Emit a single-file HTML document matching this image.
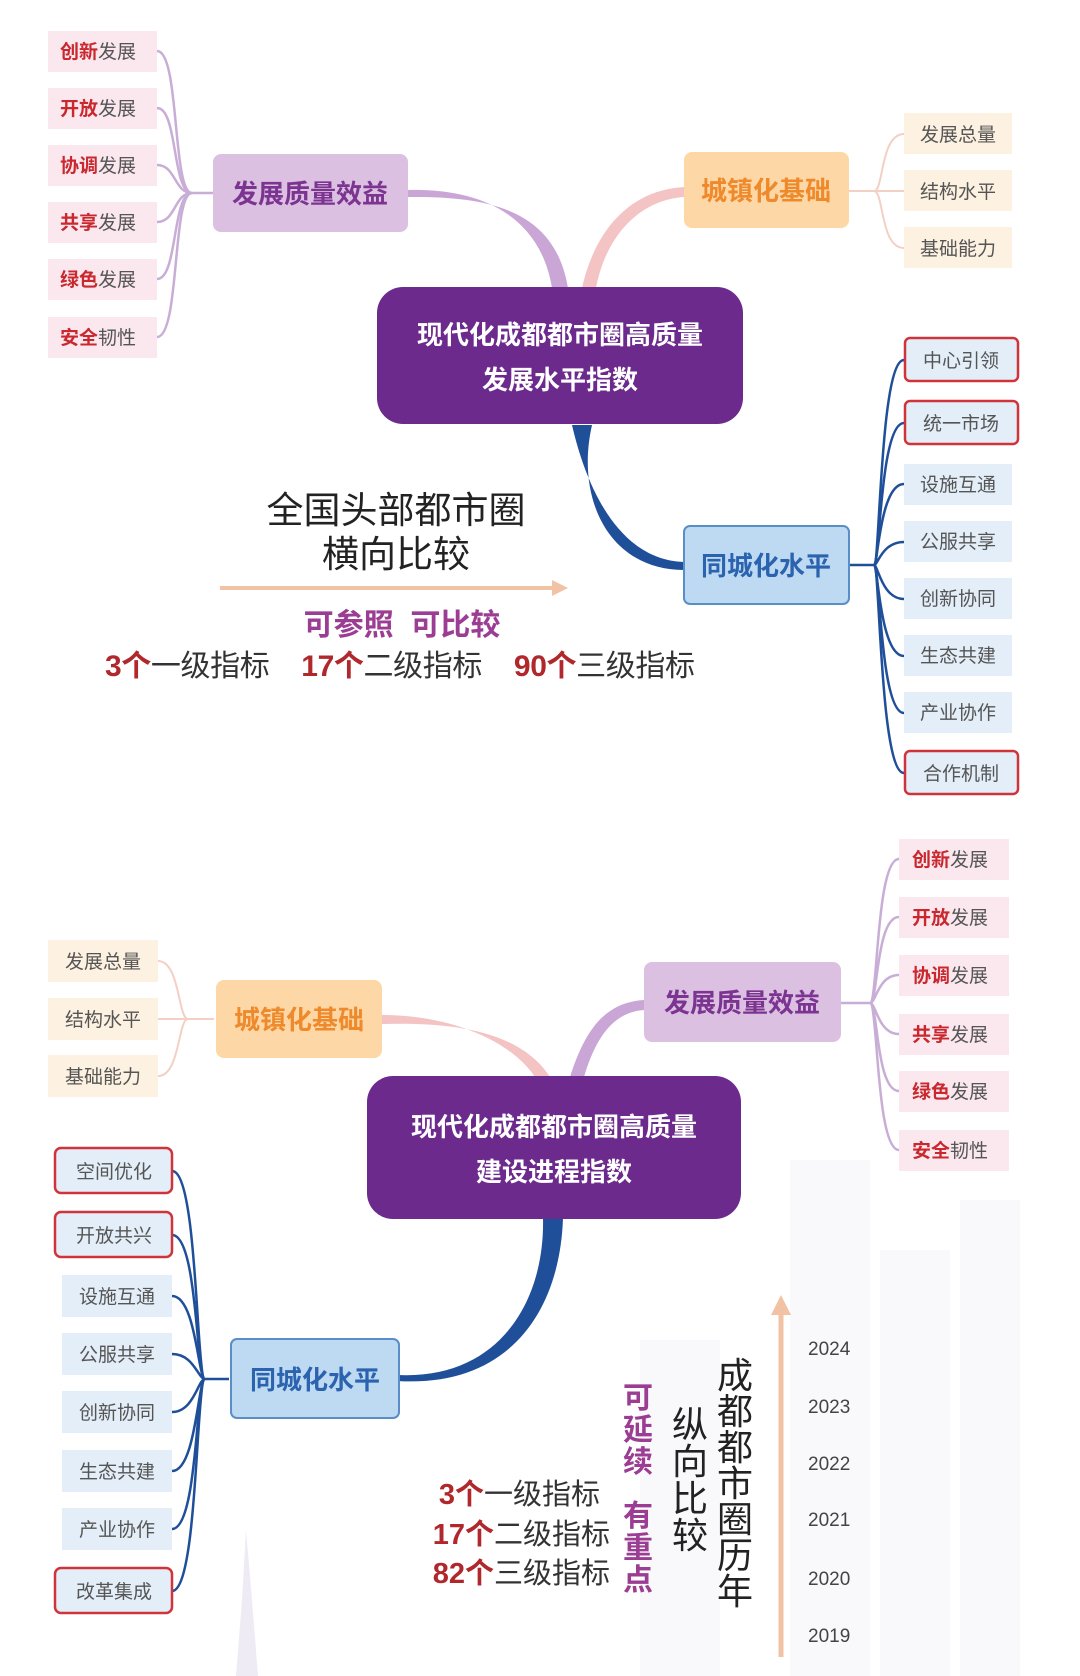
<!DOCTYPE html>
<html><head><meta charset="utf-8"><style>
html,body{margin:0;padding:0;background:#fff;}
svg{display:block;font-family:"Liberation Sans","Noto Sans CJK SC",sans-serif;}
</style></head><body>
<svg width="1080" height="1676" viewBox="0 0 1080 1676" xmlns="http://www.w3.org/2000/svg">
<defs>
<marker id="ah" viewBox="0 0 10 10" refX="5" refY="5" markerWidth="4" markerHeight="4" orient="auto"><path d="M0,0L10,5L0,10z" fill="#f2c2a4"/></marker>
</defs>
<g fill="#f9f9fb">
<rect x="790" y="1160" width="80" height="516"/><rect x="880" y="1250" width="70" height="426"/><rect x="960" y="1200" width="60" height="476"/><rect x="640" y="1340" width="80" height="336"/>
</g>
<path d="M246 1530 L242 1600 L236 1676 L258 1676 L252 1600 Z" fill="#eeebf4"/>

<!-- ===== TOP ===== -->
<g fill="none" stroke="#c8aed6" stroke-width="2.5">
<path d="M157 51 C180 51,172 193,192 193"/><path d="M157 108 C178 108,172 193,192 193"/><path d="M157 165 C176 165,174 193,192 193"/>
<path d="M157 222 C176 222,174 193,192 193"/><path d="M157 279 C178 279,172 193,192 193"/><path d="M157 337 C180 337,172 193,192 193"/>
<path d="M192 193 L213 193"/>
</g>
<path d="M408 190 C480 188,540 215,552 288 L568 288 C555 210,490 196,408 197 Z" fill="#c9a6d6"/>
<path d="M684 187 C630 190,595 230,582 288 L596 288 C606 235,640 200,684 197 Z" fill="#f4c3c3"/>
<g fill="none" stroke="#f3d0c4" stroke-width="2">
<path d="M849 191 L874 191"/><path d="M904 134 C880 134,884 191,874 191"/><path d="M904 248 C880 248,884 191,874 191"/><path d="M874 191 L904 191"/>
</g>
<path d="M572 425 C587 490,620 560,684 562 L684 570 C610 570,575 500,592 425 Z" fill="#1f4f99"/>
<g fill="none" stroke="#1f4f99" stroke-width="2.5">
<path d="M849 565 L874 565"/>
<path d="M904 360 C880 360,880 565,874 565"/><path d="M904 423 C880 423,880 565,874 565"/><path d="M904 484 C880 484,878 565,874 565"/><path d="M904 542 C882 542,878 565,874 565"/>
<path d="M904 599 C882 599,878 565,874 565"/><path d="M904 656 C880 656,878 565,874 565"/><path d="M904 713 C880 713,880 565,874 565"/><path d="M904 773 C880 773,880 565,874 565"/>
</g>

<g font-size="19">
<g fill="#fbe7ee"><rect x="48" y="31" width="109" height="41"/><rect x="48" y="88" width="109" height="41"/><rect x="48" y="145" width="109" height="41"/><rect x="48" y="202" width="109" height="41"/><rect x="48" y="259" width="109" height="41"/><rect x="48" y="317" width="109" height="41"/></g>
<text x="60" y="58"><tspan fill="#c8282e" font-weight="bold">创新</tspan><tspan fill="#555">发展</tspan></text>
<text x="60" y="115"><tspan fill="#c8282e" font-weight="bold">开放</tspan><tspan fill="#555">发展</tspan></text>
<text x="60" y="172"><tspan fill="#c8282e" font-weight="bold">协调</tspan><tspan fill="#555">发展</tspan></text>
<text x="60" y="229"><tspan fill="#c8282e" font-weight="bold">共享</tspan><tspan fill="#555">发展</tspan></text>
<text x="60" y="286"><tspan fill="#c8282e" font-weight="bold">绿色</tspan><tspan fill="#555">发展</tspan></text>
<text x="60" y="344"><tspan fill="#c8282e" font-weight="bold">安全</tspan><tspan fill="#555">韧性</tspan></text>
</g>
<rect x="213" y="154" width="195" height="78" rx="8" fill="#dcc0e2"/>
<text x="310" y="203" text-anchor="middle" font-size="26" font-weight="bold" fill="#7b3490">发展质量效益</text>
<rect x="684" y="152" width="165" height="76" rx="8" fill="#fdd8a6"/>
<text x="766" y="200" text-anchor="middle" font-size="26" font-weight="bold" fill="#ef8a2c">城镇化基础</text>
<g fill="#fdf1e1"><rect x="904" y="113" width="108" height="41"/><rect x="904" y="170" width="108" height="41"/><rect x="904" y="227" width="108" height="41"/></g>
<g font-size="19" fill="#555" text-anchor="middle"><text x="958" y="141">发展总量</text><text x="958" y="198">结构水平</text><text x="958" y="255">基础能力</text></g>

<rect x="377" y="287" width="366" height="137" rx="26" fill="#6b2a8c"/>
<text x="560" y="344" text-anchor="middle" font-size="26" font-weight="bold" fill="#fff">现代化成都都市圈高质量</text>
<text x="560" y="389" text-anchor="middle" font-size="26" font-weight="bold" fill="#fff">发展水平指数</text>

<rect x="684" y="526" width="165" height="78" rx="6" fill="#bed9f2" stroke="#5a8ec6" stroke-width="2"/>
<text x="766" y="575" text-anchor="middle" font-size="26" font-weight="bold" fill="#2b63ae">同城化水平</text>
<g fill="#e3eef8">
<rect x="905" y="338" width="113" height="43" rx="5" stroke="#d0343a" stroke-width="2.5"/>
<rect x="905" y="401" width="113" height="43" rx="5" stroke="#d0343a" stroke-width="2.5"/>
<rect x="904" y="464" width="108" height="41"/><rect x="904" y="521" width="108" height="41"/><rect x="904" y="578" width="108" height="41"/><rect x="904" y="635" width="108" height="41"/><rect x="904" y="692" width="108" height="41"/>
<rect x="905" y="751" width="113" height="43" rx="5" stroke="#d0343a" stroke-width="2.5"/>
</g>
<g font-size="19" fill="#555" text-anchor="middle">
<text x="961" y="367">中心引领</text><text x="961" y="430">统一市场</text><text x="958" y="491">设施互通</text><text x="958" y="548">公服共享</text><text x="958" y="605">创新协同</text><text x="958" y="662">生态共建</text><text x="958" y="719">产业协作</text><text x="961" y="780">合作机制</text>
</g>

<text x="396" y="523" text-anchor="middle" font-size="37" fill="#222">全国头部都市圈</text>
<text x="396" y="567" text-anchor="middle" font-size="37" fill="#222">横向比较</text>
<line x1="220" y1="588" x2="560" y2="588" stroke="#f2c2a4" stroke-width="4" marker-end="url(#ah)"/>
<text x="402" y="635" text-anchor="middle" font-size="30" font-weight="bold" fill="#9c3d94" xml:space="preserve">可参照  可比较</text>
<text x="105" y="676" font-size="30" fill="#333" xml:space="preserve" textLength="590"><tspan fill="#b0282c" font-weight="bold">3个</tspan>一级指标    <tspan fill="#b0282c" font-weight="bold">17个</tspan>二级指标    <tspan fill="#b0282c" font-weight="bold">90个</tspan>三级指标</text>

<!-- ===== BOTTOM ===== -->
<g fill="none" stroke="#f3d0c4" stroke-width="2">
<path d="M158 961 C180 961,178 1019,188 1019"/><path d="M158 1076 C180 1076,178 1019,188 1019"/><path d="M158 1019 L214 1019"/>
</g>
<path d="M382 1015 C450 1015,510 1040,535 1077 L550 1077 C520 1030,450 1022,382 1024 Z" fill="#f4c3c3"/>
<path d="M644 1000 C605 1002,585 1030,570 1077 L584 1077 C595 1040,612 1012,644 1010 Z" fill="#c9a6d6"/>
<g fill="none" stroke="#c8aed6" stroke-width="2.5">
<path d="M841 1003 L870 1003"/>
<path d="M899 859 C876 859,878 1003,870 1003"/><path d="M899 917 C876 917,878 1003,870 1003"/><path d="M899 975 C878 975,876 1003,870 1003"/>
<path d="M899 1034 C878 1034,876 1003,870 1003"/><path d="M899 1091 C876 1091,878 1003,870 1003"/><path d="M899 1150 C876 1150,878 1003,870 1003"/>
</g>
<path d="M543 1218 C545 1300,500 1380,397 1375 L397 1381 C510 1388,560 1310,563 1218 Z" fill="#1f4f99"/>
<g fill="none" stroke="#1f4f99" stroke-width="2.5">
<path d="M229 1379 L205 1379"/>
<path d="M172 1171 C198 1171,196 1379,205 1379"/><path d="M172 1235 C198 1235,196 1379,205 1379"/><path d="M172 1296 C196 1296,198 1379,205 1379"/><path d="M172 1354 C194 1354,198 1379,205 1379"/>
<path d="M172 1412 C194 1412,198 1379,205 1379"/><path d="M172 1471 C196 1471,198 1379,205 1379"/><path d="M172 1529 C198 1529,196 1379,205 1379"/><path d="M172 1591 C198 1591,196 1379,205 1379"/>
</g>

<g fill="#fdf1e1"><rect x="48" y="940" width="110" height="42"/><rect x="48" y="998" width="110" height="42"/><rect x="48" y="1055" width="110" height="42"/></g>
<g font-size="19" fill="#555" text-anchor="middle"><text x="103" y="968">发展总量</text><text x="103" y="1026">结构水平</text><text x="103" y="1083">基础能力</text></g>
<rect x="216" y="980" width="166" height="78" rx="8" fill="#fdd8a6"/>
<text x="299" y="1029" text-anchor="middle" font-size="26" font-weight="bold" fill="#ef8a2c">城镇化基础</text>
<rect x="644" y="962" width="197" height="80" rx="8" fill="#dcc0e2"/>
<text x="742" y="1012" text-anchor="middle" font-size="26" font-weight="bold" fill="#7b3490">发展质量效益</text>
<g font-size="19">
<g fill="#fbe7ee"><rect x="899" y="839" width="110" height="41"/><rect x="899" y="897" width="110" height="41"/><rect x="899" y="955" width="110" height="41"/><rect x="899" y="1014" width="110" height="41"/><rect x="899" y="1071" width="110" height="41"/><rect x="899" y="1130" width="110" height="41"/></g>
<text x="912" y="866"><tspan fill="#c8282e" font-weight="bold">创新</tspan><tspan fill="#555">发展</tspan></text>
<text x="912" y="924"><tspan fill="#c8282e" font-weight="bold">开放</tspan><tspan fill="#555">发展</tspan></text>
<text x="912" y="982"><tspan fill="#c8282e" font-weight="bold">协调</tspan><tspan fill="#555">发展</tspan></text>
<text x="912" y="1041"><tspan fill="#c8282e" font-weight="bold">共享</tspan><tspan fill="#555">发展</tspan></text>
<text x="912" y="1098"><tspan fill="#c8282e" font-weight="bold">绿色</tspan><tspan fill="#555">发展</tspan></text>
<text x="912" y="1157"><tspan fill="#c8282e" font-weight="bold">安全</tspan><tspan fill="#555">韧性</tspan></text>
</g>

<rect x="367" y="1076" width="374" height="143" rx="26" fill="#6b2a8c"/>
<text x="554" y="1136" text-anchor="middle" font-size="26" font-weight="bold" fill="#fff">现代化成都都市圈高质量</text>
<text x="554" y="1181" text-anchor="middle" font-size="26" font-weight="bold" fill="#fff">建设进程指数</text>

<rect x="231" y="1339" width="168" height="79" rx="6" fill="#bed9f2" stroke="#5a8ec6" stroke-width="2"/>
<text x="315" y="1389" text-anchor="middle" font-size="26" font-weight="bold" fill="#2b63ae">同城化水平</text>
<g fill="#e3eef8">
<rect x="55" y="1148" width="117" height="45" rx="6" stroke="#d0343a" stroke-width="2.5"/>
<rect x="55" y="1212" width="117" height="45" rx="6" stroke="#d0343a" stroke-width="2.5"/>
<rect x="62" y="1275" width="110" height="42"/><rect x="62" y="1333" width="110" height="42"/><rect x="62" y="1391" width="110" height="42"/><rect x="62" y="1450" width="110" height="42"/><rect x="62" y="1508" width="110" height="42"/>
<rect x="55" y="1568" width="117" height="45" rx="6" stroke="#d0343a" stroke-width="2.5"/>
</g>
<g font-size="19" fill="#555" text-anchor="middle">
<text x="114" y="1178">空间优化</text><text x="114" y="1242">开放共兴</text><text x="117" y="1303">设施互通</text><text x="117" y="1361">公服共享</text><text x="117" y="1419">创新协同</text><text x="117" y="1478">生态共建</text><text x="117" y="1536">产业协作</text><text x="114" y="1598">改革集成</text>
</g>

<text x="600" y="1504" text-anchor="end" font-size="29" fill="#333"><tspan fill="#b0282c" font-weight="bold">3个</tspan>一级指标</text>
<text x="610" y="1544" text-anchor="end" font-size="29" fill="#333"><tspan fill="#b0282c" font-weight="bold">17个</tspan>二级指标</text>
<text x="610" y="1583" text-anchor="end" font-size="29" fill="#333"><tspan fill="#b0282c" font-weight="bold">82个</tspan>三级指标</text>
<g font-size="30" font-weight="bold" fill="#9c3d94" text-anchor="middle">
<text x="638" y="1408">可</text><text x="638" y="1440">延</text><text x="638" y="1472">续</text><text x="638" y="1526">有</text><text x="638" y="1558">重</text><text x="638" y="1590">点</text>
</g>
<g font-size="36" fill="#222" text-anchor="middle">
<text x="690" y="1437">纵</text><text x="690" y="1474">向</text><text x="690" y="1511">比</text><text x="690" y="1548">较</text>
<text x="735" y="1388">成</text><text x="735" y="1424">都</text><text x="735" y="1460">都</text><text x="735" y="1496">市</text><text x="735" y="1532">圈</text><text x="735" y="1568">历</text><text x="735" y="1604">年</text>
</g>
<line x1="781" y1="1657" x2="781" y2="1305" stroke="#f2c2a4" stroke-width="5" marker-end="url(#ah)"/>
<g font-size="19" fill="#444">
<text x="808" y="1355">2024</text><text x="808" y="1413">2023</text><text x="808" y="1470">2022</text><text x="808" y="1526">2021</text><text x="808" y="1585">2020</text><text x="808" y="1642">2019</text>
</g>
</svg>
</body></html>
